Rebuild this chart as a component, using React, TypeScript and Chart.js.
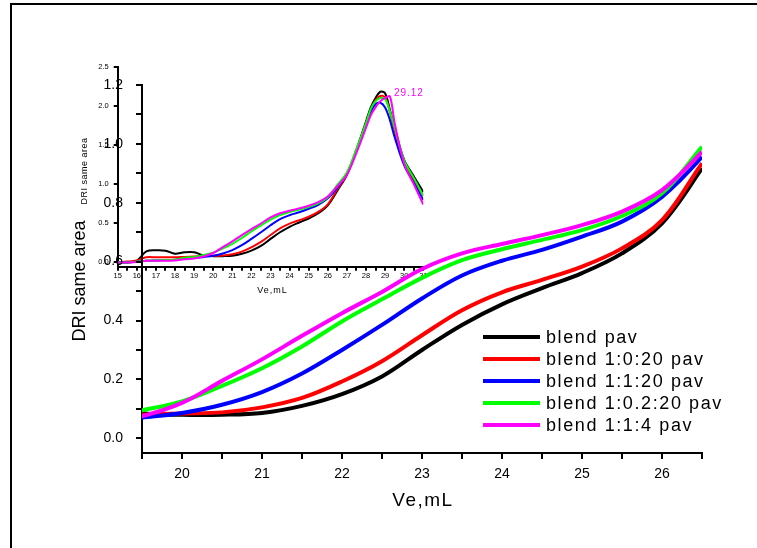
import React, { useEffect, useRef } from 'react';
import { Chart, registerables } from 'chart.js';

Chart.register(...registerables);

const FONT = 'Arial, "Liberation Sans", Helvetica, sans-serif';

// Elution volume (mL)
const ve = [15, 15.5, 16, 16.5, 17, 17.5, 18, 18.5, 19, 19.5, 20, 20.5, 21, 21.5, 22, 22.5, 23, 23.5, 24, 24.5, 25, 25.5, 26, 26.5, 27, 27.5, 28, 28.25, 28.5, 28.75, 29, 29.25, 29.5, 30, 30.5, 31];

// DRI signal (same area) for each blend
const blendPav = [0, 0, 0.02, 0.14, 0.155, 0.15, 0.11, 0.13, 0.13, 0.086, 0.08, 0.08, 0.086, 0.11, 0.15, 0.21, 0.3, 0.385, 0.455, 0.51, 0.561, 0.628, 0.73, 0.917, 1.12, 1.44, 1.8, 1.98, 2.1, 2.18, 2.16, 1.95, 1.72, 1.31, 1.1, 0.9];
const blend1020 = [0, 0.01, 0.025, 0.065, 0.065, 0.065, 0.065, 0.07, 0.075, 0.08, 0.084, 0.088, 0.105, 0.137, 0.193, 0.262, 0.35, 0.435, 0.496, 0.538, 0.583, 0.645, 0.741, 0.934, 1.12, 1.43, 1.76, 1.95, 2.07, 2.125, 2.11, 1.92, 1.68, 1.28, 1.06, 0.85];
const blend1120 = [0, 0, 0.01, 0.02, 0.025, 0.03, 0.035, 0.045, 0.055, 0.07, 0.086, 0.114, 0.157, 0.22, 0.3, 0.385, 0.475, 0.553, 0.603, 0.64, 0.685, 0.736, 0.82, 0.956, 1.13, 1.42, 1.74, 1.92, 2.02, 2.04, 1.98, 1.82, 1.6, 1.24, 1.02, 0.8];
const blend10220 = [0, 0, 0.01, 0.02, 0.025, 0.03, 0.035, 0.06, 0.07, 0.095, 0.125, 0.178, 0.238, 0.312, 0.397, 0.472, 0.545, 0.605, 0.642, 0.674, 0.707, 0.755, 0.832, 0.99, 1.15, 1.45, 1.78, 1.96, 2.06, 2.1, 2.09, 1.93, 1.72, 1.3, 1.08, 0.85];
const blend114 = [0, 0, 0.005, 0.02, 0.02, 0.02, 0.025, 0.04, 0.05, 0.075, 0.12, 0.195, 0.268, 0.348, 0.425, 0.497, 0.575, 0.628, 0.66, 0.69, 0.724, 0.77, 0.843, 0.973, 1.12, 1.4, 1.72, 1.88, 1.98, 2.06, 2.1, 2.12, 1.78, 1.26, 1.0, 0.74];

const seriesLabels = ['blend pav', 'blend 1:0:20 pav', 'blend 1:1:20 pav', 'blend 1:0.2:20 pav', 'blend 1:1:4 pav'];
const seriesValues = [blendPav, blend1020, blend1120, blend10220, blend114];
const seriesColors = ['#000000', '#ff0000', '#0000ff', '#00ff00', '#ff00ff'];

// Tick values
const mainXTicks = [19.5, 20, 20.5, 21, 21.5, 22, 22.5, 23, 23.5, 24, 24.5, 25, 25.5, 26, 26.5];
const mainYTicks = [0, 0.1, 0.2, 0.3, 0.4, 0.5, 0.6, 0.7, 0.8, 0.9, 1.0, 1.1, 1.2];
const insetXTicks = [15, 15.5, 16, 16.5, 17, 17.5, 18, 18.5, 19, 19.5, 20, 20.5, 21, 21.5, 22, 22.5, 23, 23.5, 24, 24.5, 25, 25.5, 26, 26.5, 27, 27.5, 28, 28.5, 29, 29.5, 30, 30.5, 31];
const insetYTicks = [0, 0.5, 1.0, 1.5, 2.0, 2.5];

const peakLabel = '29.12';
const peakVe = 29.12;
const peakValue = 2.12;

function buildDatasets(width: number) {
  return seriesValues.map((vals, i) => ({
    label: seriesLabels[i],
    data: ve.map((x, j) => ({ x, y: vals[j] })),
    borderColor: seriesColors[i],
    backgroundColor: seriesColors[i],
    borderWidth: width,
    pointRadius: 0,
    fill: false,
    tension: 0.35,
    order: seriesValues.length - 1 - i,
  }));
}

function axisCommon(fontSize: number, tickLen: number, padding: number) {
  return {
    ticks: { autoSkip: false, maxRotation: 0, minRotation: 0, padding, color: '#000', font: { family: FONT, size: fontSize } },
    grid: { display: true, drawOnChartArea: false, drawTicks: true, tickLength: tickLen, tickColor: '#000', tickWidth: 2, color: '#000', lineWidth: 2 },
    border: { display: true, color: '#000', width: 2 },
  };
}

const mainDecor = {
  id: 'mainDecor',
  afterDraw(chart: any) {
    const { ctx, chartArea: a } = chart;
    ctx.save();
    ctx.fillStyle = '#000';
    ctx.textBaseline = 'middle';
    // x title
    ctx.font = `19px ${FONT}`;
    (ctx as any).letterSpacing = '1.5px';
    ctx.textAlign = 'center';
    ctx.fillText('Ve,mL', (a.left + a.right) / 2 + 1, a.bottom + 48);
    // y title
    ctx.save();
    ctx.translate(a.left - 62, 281);
    ctx.rotate(-Math.PI / 2);
    ctx.font = `18px ${FONT}`;
    (ctx as any).letterSpacing = '0px';
    ctx.textAlign = 'center';
    ctx.fillText('DRI same area', 0, 0);
    ctx.restore();
    // legend
    chart.data.datasets.forEach((ds: any, i: number) => {
      const y = 337 + i * 22;
      ctx.strokeStyle = ds.borderColor;
      ctx.lineWidth = 4;
      ctx.lineCap = 'butt';
      ctx.beginPath();
      ctx.moveTo(483, y);
      ctx.lineTo(540, y);
      ctx.stroke();
      ctx.font = `18px ${FONT}`;
      (ctx as any).letterSpacing = '1.6px';
      ctx.textAlign = 'left';
      ctx.fillStyle = '#000';
      ctx.fillText(ds.label, 546, y + 1);
    });
    (ctx as any).letterSpacing = '0px';
    ctx.restore();
  },
};

const insetDecor = {
  id: 'insetDecor',
  afterDraw(chart: any) {
    const { ctx, chartArea: a, scales } = chart;
    ctx.save();
    ctx.fillStyle = '#000';
    ctx.textBaseline = 'middle';
    ctx.font = `9px ${FONT}`;
    (ctx as any).letterSpacing = '1px';
    ctx.textAlign = 'center';
    ctx.fillText('Ve,mL', (a.left + a.right) / 2 + 2, a.bottom + 24);
    ctx.save();
    ctx.translate(a.left - 33, 171);
    ctx.rotate(-Math.PI / 2);
    (ctx as any).letterSpacing = '0.5px';
    ctx.fillText('DRI same area', 0, 0);
    ctx.restore();
    // peak annotation
    ctx.fillStyle = seriesColors[4];
    ctx.font = `10px ${FONT}`;
    (ctx as any).letterSpacing = '1px';
    ctx.textAlign = 'left';
    ctx.fillText(peakLabel, scales.x.getPixelForValue(peakVe) + 6.5, scales.y.getPixelForValue(peakValue) - 3.5);
    (ctx as any).letterSpacing = '0px';
    ctx.restore();
  },
};

export default function App() {
  const mainRef = useRef<HTMLCanvasElement>(null);
  const insetRef = useRef<HTMLCanvasElement>(null);

  useEffect(() => {
    const insetAx = axisCommon(7.5, 4, 1);
    const insetAy = axisCommon(7.5, 4, 5);
    const inset = new Chart(insetRef.current as HTMLCanvasElement, {
      type: 'line',
      data: { datasets: buildDatasets(2) as any },
      options: {
        responsive: false,
        animation: false,
        devicePixelRatio: 1,
        events: [],
        layout: { padding: { left: 77.7, right: 333.7, top: 66.7, bottom: 251.3 } },
        plugins: { legend: { display: false }, tooltip: { enabled: false } },
        scales: {
          x: {
            type: 'linear', min: 15, max: 31,
            ...insetAx,
            ticks: { ...insetAx.ticks, callback: (v: any) => (Number.isInteger(v) ? String(v) : '') },
            afterBuildTicks: (s: any) => { s.ticks = insetXTicks.map((v) => ({ value: v })); },
            afterFit: (s: any) => { s.height = 30; },
          },
          y: {
            type: 'linear', min: -0.055, max: 2.5,
            ...insetAy,
            ticks: { ...insetAy.ticks, callback: (v: any) => Number(v).toFixed(1) },
            afterBuildTicks: (s: any) => { s.ticks = insetYTicks.map((v) => ({ value: v })); },
            afterFit: (s: any) => { s.width = 40; },
          },
        },
      } as any,
      plugins: [insetDecor],
    });

    const mainAx = axisCommon(14, 6, 7);
    const mainAy = axisCommon(14, 6, 13);
    const main = new Chart(mainRef.current as HTMLCanvasElement, {
      type: 'line',
      data: { datasets: buildDatasets(4) as any },
      options: {
        responsive: false,
        animation: false,
        devicePixelRatio: 1,
        events: [],
        layout: { padding: { left: 102, right: 55, top: 85, bottom: 55 } },
        plugins: { legend: { display: false }, tooltip: { enabled: false } },
        scales: {
          x: {
            type: 'linear', min: 19.5, max: 26.5,
            ...mainAx,
            ticks: { ...mainAx.ticks, callback: (v: any) => (Number.isInteger(v) ? String(v) : '') },
            afterBuildTicks: (s: any) => { s.ticks = mainXTicks.map((v) => ({ value: v })); },
            afterFit: (s: any) => { s.height = 40; },
          },
          y: {
            type: 'linear', min: -0.05, max: 1.2,
            ...mainAy,
            ticks: { ...mainAy.ticks, callback: (v: any) => (Math.round(Number(v) * 10) % 2 === 0 ? Number(v).toFixed(1) : '') },
            afterBuildTicks: (s: any) => { s.ticks = mainYTicks.map((v) => ({ value: v })); },
            afterFit: (s: any) => { s.width = 40; },
          },
        },
      } as any,
      plugins: [mainDecor],
    });

    return () => {
      inset.destroy();
      main.destroy();
    };
  }, []);

  const canvasStyle: React.CSSProperties = { position: 'absolute', left: 0, top: 0, width: 757, height: 548 };
  return (
    <div style={{ position: 'fixed', left: 0, top: 0, width: 757, height: 548, overflow: 'hidden', background: '#fff' }}>
      <div style={{ position: 'absolute', left: 10, top: 3, width: 800, height: 600, borderLeft: '2px solid #000', borderTop: '2px solid #000' }} />
      <canvas ref={insetRef} width={757} height={548} style={canvasStyle} />
      <canvas ref={mainRef} width={757} height={548} style={canvasStyle} />
    </div>
  );
}
